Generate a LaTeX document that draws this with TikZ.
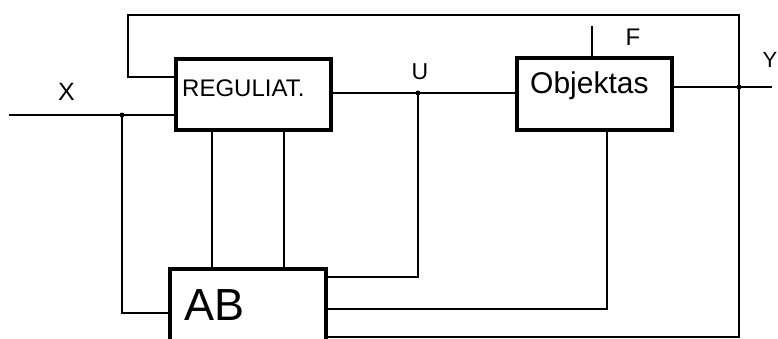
\documentclass[tikz,border=0pt]{standalone}
\usepackage{fontspec}
\setmainfont{Liberation Sans}
\begin{document}
\begin{tikzpicture}[x=1pt,y=-1pt,
  wire/.style={line width=1.3pt},
  blk/.style={draw,line width=3.5pt,rectangle,inner sep=0pt},
  txt/.style={inner sep=0pt,anchor=base west},
  dot/.style={fill=black}]
\useasboundingbox (0,0) rectangle (778,338);
\clip (0,0) rectangle (778,338);
% blocks
\node[blk,minimum width=155pt,minimum height=71pt] (reg) at (253.5,94.5) {};
\node[blk,minimum width=155pt,minimum height=72pt] (obj) at (594.5,94) {};
\node[blk,minimum width=156pt,minimum height=76pt] (ab) at (248,307) {};
\node[txt,font=\fontsize{24}{24}\selectfont] (regt) at (182,96) {REGULIAT.};
\node[txt,font=\fontsize{30}{30}\selectfont] (objt) at (530,93) {Objektas};
\node[txt,font=\fontsize{45}{45}\selectfont] (abt) at (184,320) {AB};
% labels
\node[font=\fontsize{25}{25}\selectfont,inner sep=0pt] (xl) at (66.5,92) {X};
\node[font=\fontsize{23}{23}\selectfont,inner sep=0pt] (ul) at (420,72) {U};
\node[font=\fontsize{24}{24}\selectfont,inner sep=0pt] (fl) at (633,37) {F};
\node[inner sep=0pt,anchor=base east,font=\fontsize{22}{22}\selectfont] (yl) at (777.5,67) {Y};
% coordinates
\coordinate (xin) at (9,115);
\coordinate (xj) at (122,115);
\coordinate (abin) at (122,313);
\coordinate (uj) at (418,93);
\coordinate (uab) at (418,277);
\coordinate (yj) at (739,87);
\coordinate (yout) at (772,87);
\coordinate (fin) at (592,26);
\coordinate (ob) at (607,309);
\coordinate (fbin) at (128,77);
\coordinate (topl) at (128,15);
\coordinate (topr) at (739,15);
\coordinate (rb) at (739,337);
\coordinate (r1) at (212,0);
\coordinate (r2) at (284,0);
% wires
\draw[wire] (xin) -- (xin -| reg.west);
\draw[wire] (xj) -- (abin) -- (abin -| ab.west);
\draw[wire] (fbin -| reg.west) -- (fbin) -- (topl) -- (topr) -- (rb) -- (rb -| ab.east);
\draw[wire] (reg.east |- uj) -- (uj) -- (uj -| obj.west);
\draw[wire] (uj) -- (uab) -- (uab -| ab.east);
\draw[wire] (obj.east |- yj) -- (yout);
\draw[wire] (fin) -- (fin |- obj.north);
\draw[wire] (ob |- obj.south) -- (ob) -- (ob -| ab.east);
\draw[wire] (r1 |- reg.south) -- (r1 |- ab.north);
\draw[wire] (r2 |- reg.south) -- (r2 |- ab.north);
% junction dots
\fill[dot] (xj) circle (2.5);
\fill[dot] (uj) circle (2.5);
\fill[dot] (yj) circle (2.5);
\end{tikzpicture}
\end{document}
